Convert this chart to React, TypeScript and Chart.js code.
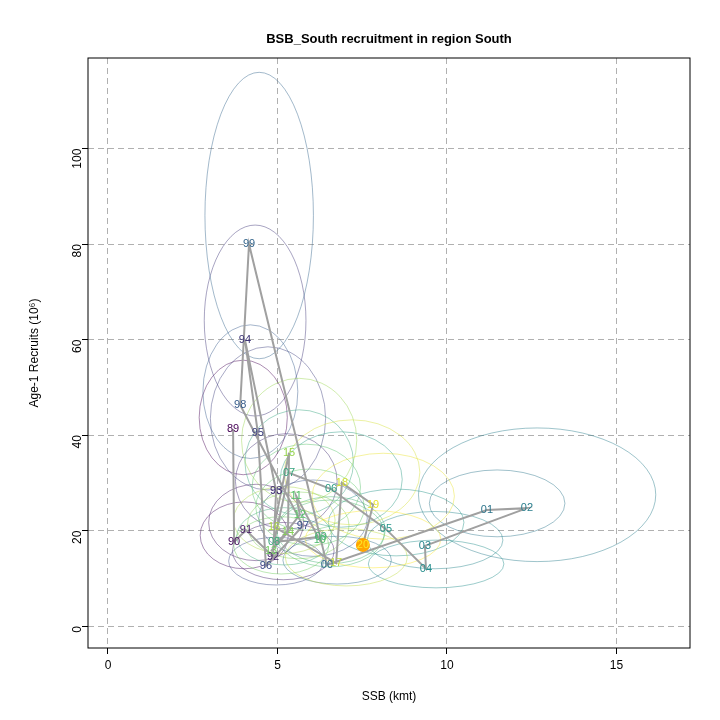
import Chart from 'chart.js/auto';
import { useEffect, useRef } from 'react';

const years = ['89','90','91','92','93','94','95','96','97','98','99','00','01','02','03','04','05','06','07','08','09','10','11','12','13','14','15','16','17','18','19','20'];
const ssb = [3.69,3.72,4.07,4.87,4.96,4.04,4.42,4.66,5.75,3.9,4.16,6.46,11.18,12.36,9.35,9.38,8.2,6.58,5.34,4.9,6.28,6.25,5.55,5.66,4.81,5.31,5.34,4.9,6.73,6.9,7.82,7.52];
const recruits = [41.3,17.6,20.1,14.5,28.3,60,40.5,12.6,21,46.3,80,12.8,24.3,24.7,16.8,12,20.3,28.7,32.1,17.6,18.7,18,27.3,23.3,15.7,19.7,36.3,20.8,13.2,30,25.4,17];
const ellRx = [1.3,1.3,1.4,1.5,1.5,1.5,1.7,1.4,1.6,1.4,1.6,1.6,2,3.5,2,2,2,1.8,1.6,1.4,1.6,1.6,1.6,1.6,1.4,1.5,1.7,1.5,1.8,2,2.1,2];
const ellRy = [12,7,8,6,10,20,15,5,8,14,30,5,7,14,6,5,7,10,11,6,7,7,9,8,6,7,13,7,6,11,9,6];

const VIR = [[68,1,84],[59,82,139],[33,145,140],[94,201,98],[253,231,37]];
function viridis(t: number, a: number) {
  const s = t * (VIR.length - 1);
  const i = Math.min(Math.floor(s), VIR.length - 2);
  const f = s - i;
  const c = VIR[i].map((v, k) => Math.round(v + (VIR[i + 1][k] - v) * f));
  return `rgba(${c[0]},${c[1]},${c[2]},${a})`;
}

const FONT = '"Liberation Sans", Arial, sans-serif';

const overlay = {
  id: 'overlay',
  beforeDatasetsDraw(chart: any) {
    const { ctx, scales: { x, y } } = chart;
    ctx.save();
    ctx.lineWidth = 1;
    years.forEach((_, i) => {
      const cx = x.getPixelForValue(ssb[i] + 0.3);
      const cy = y.getPixelForValue(recruits[i] + ellRy[i] * 0.2);
      const rx = Math.abs(x.getPixelForValue(ellRx[i]) - x.getPixelForValue(0));
      const ry = Math.abs(y.getPixelForValue(ellRy[i]) - y.getPixelForValue(0));
      ctx.strokeStyle = viridis(i / (years.length - 1), 0.45);
      ctx.beginPath();
      ctx.ellipse(cx, cy, rx, ry, 0, 0, Math.PI * 2);
      ctx.stroke();
    });
    ctx.restore();
  },
  afterDatasetsDraw(chart: any) {
    const { ctx, scales: { x, y }, chartArea } = chart;
    ctx.save();
    ctx.font = `11px ${FONT}`;
    ctx.textAlign = 'center';
    ctx.textBaseline = 'middle';
    years.forEach((yr, i) => {
      ctx.fillStyle = viridis(i / (years.length - 1), 1);
      ctx.fillText(yr, x.getPixelForValue(ssb[i]), y.getPixelForValue(recruits[i]));
    });
    ctx.fillStyle = '#000';
    ctx.font = `bold 13px ${FONT}`;
    ctx.fillText('BSB_South recruitment in region South', (chartArea.left + chartArea.right) / 2, 39);
    ctx.font = `12px ${FONT}`;
    ctx.fillText('SSB (kmt)', (chartArea.left + chartArea.right) / 2, 697);
    ctx.translate(35, (chartArea.top + chartArea.bottom) / 2);
    ctx.rotate(-Math.PI / 2);
    ctx.fillText('Age-1 Recruits (10\u2076)', 0, 0);
    ctx.restore();
  },
};

export default function App() {
  const ref = useRef<HTMLCanvasElement>(null);
  useEffect(() => {
    if (!ref.current) return;
    const chart = new Chart(ref.current, {
      type: 'scatter',
      data: {
        datasets: [{
          data: ssb.map((v, i) => ({ x: v, y: recruits[i] })),
          showLine: true,
          borderColor: 'rgba(160,160,160,1)',
          borderWidth: 2,
          pointRadius: years.map((_, i) => (i === years.length - 1 ? 6 : 0)),
          pointBackgroundColor: '#FFA500',
          pointBorderColor: '#FFA500',
        }],
      },
      options: {
        animation: false,
        responsive: false,
        layout: { padding: { top: 58, right: 30, left: 0, bottom: 0 } },
        plugins: { legend: { display: false }, tooltip: { enabled: false } },
        scales: {
          x: {
            min: -0.59, max: 17.17,
            afterFit: (s: any) => { s.height = 72; },
            afterBuildTicks: (s: any) => { s.ticks = [0, 5, 10, 15].map(v => ({ value: v })); },
            border: { display: false, dash: [6, 4] },
            grid: { color: '#b0b0b0', tickColor: '#000', tickLength: 6 },
            ticks: { color: '#000', font: { family: FONT, size: 12 }, padding: 4 },
          },
          y: {
            min: -4.6, max: 119,
            afterFit: (s: any) => { s.width = 88; },
            afterBuildTicks: (s: any) => { s.ticks = [0, 20, 40, 60, 80, 100].map(v => ({ value: v })); },
            border: { display: false, dash: [6, 4] },
            grid: { color: '#b0b0b0', tickColor: '#000', tickLength: 6 },
            ticks: { color: '#000', font: { family: FONT, size: 12 }, minRotation: 90, maxRotation: 90, padding: 4 },
          },
        },
      },
      plugins: [overlay, {
        id: 'box',
        beforeDraw(c: any) {
          const { ctx } = c;
          ctx.save(); ctx.fillStyle = '#fff'; ctx.fillRect(0, 0, c.width, c.height); ctx.restore();
        },
        afterDraw(c: any) {
          const { ctx, chartArea: a } = c;
          ctx.save(); ctx.strokeStyle = '#000'; ctx.lineWidth = 1;
          ctx.strokeRect(a.left, a.top, a.right - a.left, a.bottom - a.top); ctx.restore();
        },
      }],
    } as any);
    return () => chart.destroy();
  }, []);
  return (
    <div style={{ position: 'fixed', left: 0, top: 0 }}>
      <canvas ref={ref} width={720} height={720} style={{ width: 720, height: 720 }} />
    </div>
  );
}
